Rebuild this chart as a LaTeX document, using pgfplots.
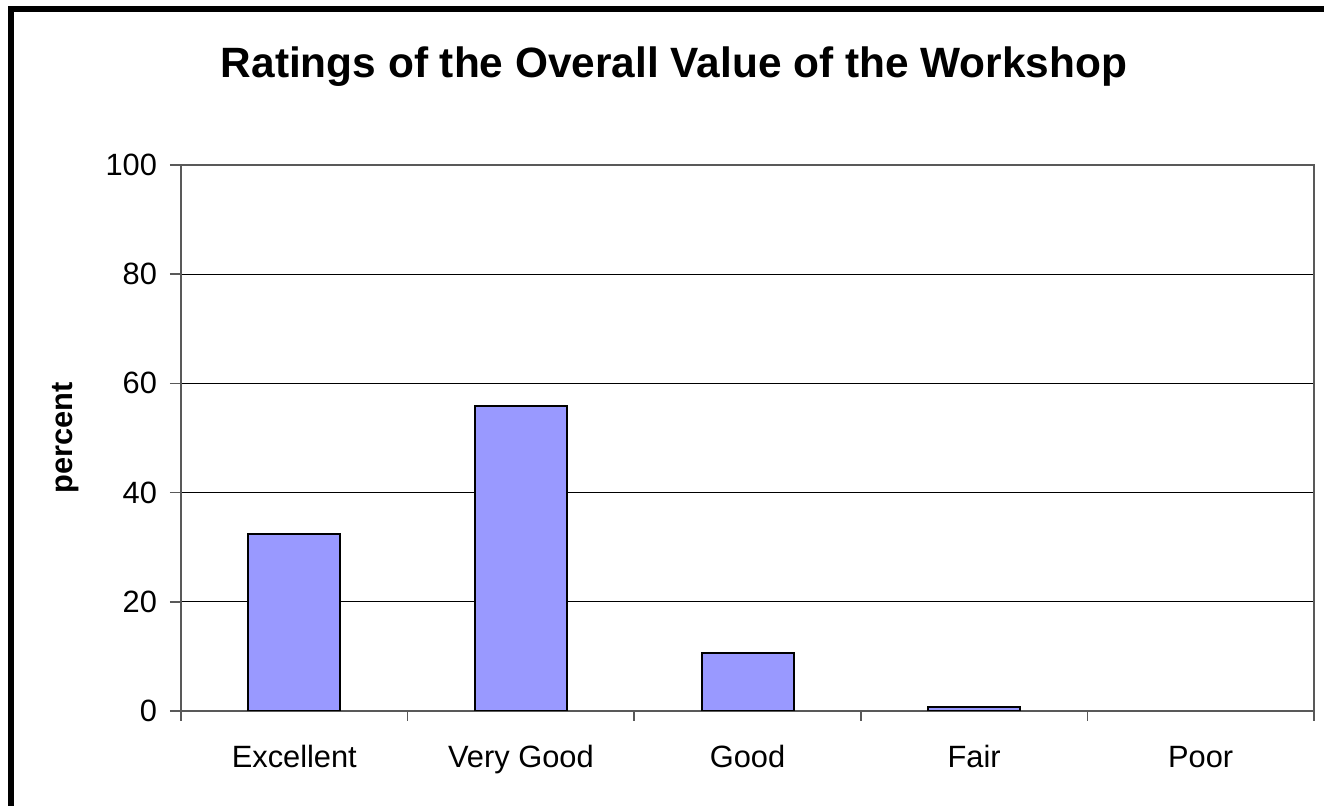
\documentclass[border=0pt]{standalone}
\usepackage{fontspec}
\setmainfont{Liberation Sans}
\usepackage{pgfplots}
\pgfplotsset{compat=1.18}
\definecolor{barfill}{HTML}{9999FF}
\begin{document}
\begin{tikzpicture}
\useasboundingbox (0pt,0pt) rectangle (662pt,403pt);
\draw[line width=3pt] (5.5pt,0pt) -- (5.5pt,398.5pt) -- (662pt,398.5pt);
\node[anchor=base,font=\fontsize{21.2}{25}\selectfont\bfseries] at (337pt,364pt) {Ratings of the Overall Value of the Workshop};
\node[rotate=90,font=\fontsize{15.4}{18}\selectfont\bfseries] at (33pt,184pt) {percent};
\begin{axis}[
  at={(90.5pt,47.5pt)}, anchor=south west,
  scale only axis, width=566.5pt, height=273pt,
  xmin=-0.5, xmax=4.5, ymin=0, ymax=100,
  ytick={0,20,...,100},
  xtick={0,1,2,3,4},
  xticklabels={Excellent,Very Good,Good,Fair,Poor},
  minor xtick={-0.5,0.5,1.5,2.5,3.5,4.5},
  major x tick style={draw=none},
  minor x tick style={draw=gray!70!black, line width=0.8pt},
  minor tick length=5pt,
  y tick style={draw=gray!70!black, line width=0.8pt},
  major tick length=5.5pt,
  tick align=outside,
  xtick pos=bottom, ytick pos=left,
  ymajorgrids, major grid style={black, line width=0.6pt},
  axis line style={draw=gray!70!black, line width=0.8pt},
  ticklabel style={font=\fontsize{15.4}{18}\selectfont},
  /pgf/number format/assume math mode=true,
  yticklabel style={xshift=-3pt},
  xticklabel style={text height=11pt, text depth=3.5pt, yshift=-8pt},
  ybar, bar width=46pt,
]
% Poor = 0 (no visible bar)
\addplot[fill=barfill, draw=black, line width=1pt] coordinates {(0,32.5) (1,55.9) (2,10.6) (3,0.7)};
\end{axis}
\end{tikzpicture}
\end{document}
